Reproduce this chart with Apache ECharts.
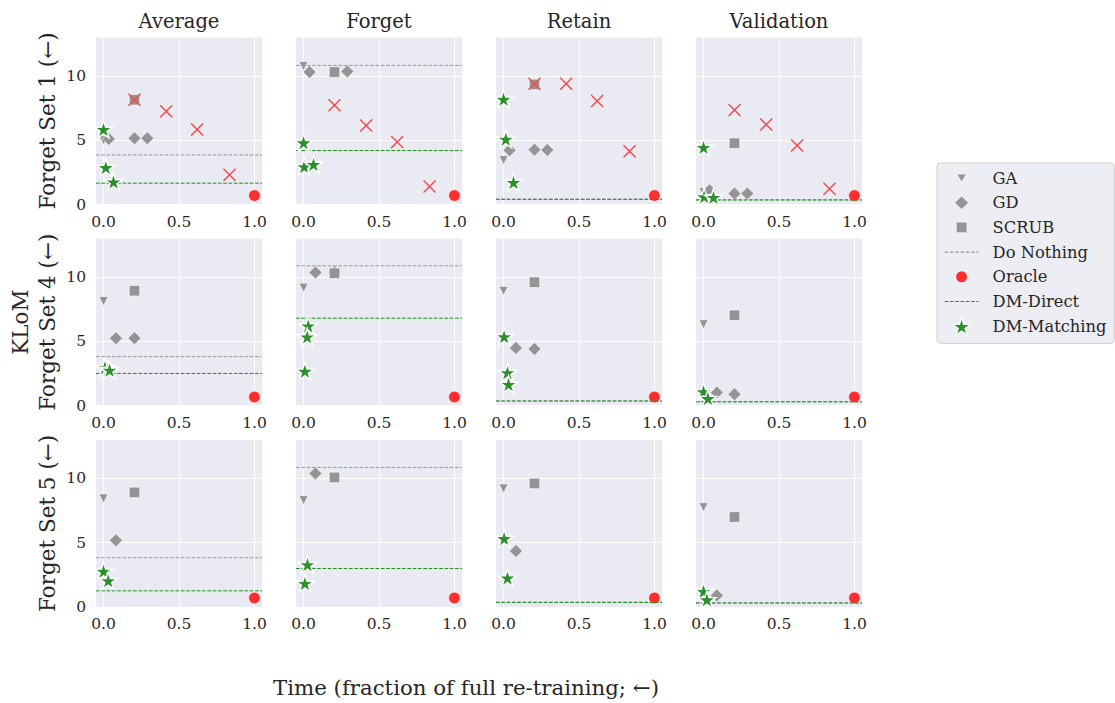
<!DOCTYPE html>
<html>
<head>
<meta charset="utf-8">
<script src="https://cdn.jsdelivr.net/npm/echarts@6/dist/echarts.min.js"></script>
<style>
  html, body { margin: 0; padding: 0; background: #ffffff; }
  #chart { width: 1115px; height: 703px; }
</style>
</head>
<body>
<div id="chart"></div>
<script>
// Panel headings and row headings
const colTitles = ['Average', 'Forget', 'Retain', 'Validation'];
const rowTitles = ['Forget Set 1 (\u2190)', 'KLoM\nForget Set 4 (\u2190)', 'Forget Set 5 (\u2190)'];
const xTitle = 'Time (fraction of full re-training; \u2190)';
const xTicks = [0, 0.5, 1.0];
const yTicks = [0, 5, 10];

// Points per panel, indexed [row][column]: [time fraction, KLoM]
const gaPts = [
  [[[0.0, 5.0]], [[0.0, 10.78]], [[0.0, 3.45]], [[0.0, 0.95]]],
  [[[0.0, 8.14]], [[0.0, 9.19]], [[0.0, 8.93]], [[0.0, 6.34]]],
  [[[0.0, 8.44]], [[0.0, 8.31]], [[0.0, 9.22]], [[0.0, 7.76]]]
];
const gdPts = [
  [[[0.035, 5.1], [0.205, 5.15], [0.29, 5.15]],
   [[0.04, 10.31], [0.29, 10.36]],
   [[0.04, 4.22], [0.205, 4.27], [0.29, 4.25]],
   [[0.04, 1.1], [0.205, 0.85], [0.29, 0.85]]],
  [[[0.082, 5.26], [0.205, 5.26]],
   [[0.079, 10.37], [0.205, 10.4]],
   [[0.082, 4.5], [0.205, 4.42]],
   [[0.088, 1.02], [0.205, 0.89]]],
  [[[0.082, 5.18]], [[0.079, 10.39]], [[0.082, 4.35]], [[0.088, 0.89]]]
];
const scrubPts = [
  [[[0.205, 8.15]], [[0.205, 10.31]], [[0.205, 9.35]], [[0.205, 4.77]]],
  [[[0.205, 8.95]], [[0.205, 10.31]], [[0.205, 9.61]], [[0.205, 7.04]]],
  [[[0.205, 8.91]], [[0.205, 10.08]], [[0.205, 9.61]], [[0.205, 7.0]]]
];
const oraclePts = [
  [[[1.0, 0.70]], [[1.0, 0.70]], [[1.0, 0.70]], [[1.0, 0.70]]],
  [[[1.0, 0.68]], [[1.0, 0.68]], [[1.0, 0.68]], [[1.0, 0.68]]],
  [[[1.0, 0.70]], [[1.0, 0.70]], [[1.0, 0.70]], [[1.0, 0.70]]]
];
// Oracle retrained on a fraction of the data (first forget set only)
const partialPts = [
  [[[0.205, 8.15], [0.415, 7.25], [0.62, 5.83], [0.835, 2.31]],
   [[0.205, 7.72], [0.415, 6.14], [0.62, 4.87], [0.835, 1.40]],
   [[0.205, 9.4], [0.415, 9.4], [0.62, 8.06], [0.835, 4.15]],
   [[0.205, 7.36], [0.415, 6.22], [0.62, 4.59], [0.835, 1.22]]],
  [[], [], [], []],
  [[], [], [], []]
];
const matchPts = [
  [[[0.0, 5.78], [0.015, 2.82], [0.066, 1.7]],
   [[0.0, 4.74], [0.004, 2.88], [0.066, 3.06]],
   [[0.0, 8.13], [0.015, 5.03], [0.066, 1.66]],
   [[0.0, 4.38], [0.004, 0.54], [0.066, 0.49]]],
  [[[0.01, 2.9], [0.03, 2.75], [0.04, 2.7]],
   [[0.031, 6.15], [0.024, 5.29], [0.009, 2.62]],
   [[0.004, 5.31], [0.026, 2.51], [0.033, 1.6]],
   [[0.0, 1.02], [0.029, 0.5]]],
  [[[0.0, 2.71], [0.031, 1.98]],
   [[0.026, 3.23], [0.009, 1.77]],
   [[0.004, 5.26], [0.026, 2.19]],
   [[0.0, 1.15], [0.022, 0.49]]]
];
// Horizontal reference levels per panel
const doNothing = [
  [3.86, 10.83, 0.42, 0.37],
  [3.82, 10.89, 0.38, 0.32],
  [3.83, 10.86, 0.37, 0.32]
];
const dmDirect = [
  [1.66, 4.2, 0.40, 0.35],
  [2.51, 6.81, 0.36, 0.30],
  [1.25, 2.99, 0.35, 0.30]
];

// Axis ranges
const X_MIN = -0.05, X_MAX = 1.05, Y_MIN = 0, Y_MAX = 13;

// Styling
const FONT = 'DejaVu Serif';
const TEXT = '#262626';
const GRAY = '#949495';
const RED = '#fb2f30';
const XRED = '#f94649';
const GREEN = '#2e8f2e';
const LINE_GREEN = '#1c941c';
const LINE_GRAY = '#999999';
const DASH = [3.7, 1.6];

const gridLeft = 96, gridTop = 37.5, gridW = 166, gridH = 167, colStep = 200, rowStep = 201.2;

function starPath(cx, cy, R) {
  const r = R * 0.381966;
  let d = '';
  for (let i = 0; i < 10; i++) {
    const rad = i % 2 === 0 ? R : r;
    const a = -Math.PI / 2 + i * Math.PI / 5;
    const px = cx + rad * Math.cos(a), py = cy + rad * Math.sin(a);
    d += (i === 0 ? 'M' : 'L') + px.toFixed(3) + ',' + py.toFixed(3);
  }
  return d + 'Z';
}
const STAR = 'path://' + starPath(0, 0, 1) + 'M0,1';
const TRI_DOWN = 'path://M-1,-1L1,-1L0,1Z';
// thin filled cross: two diagonal bars
function crossPath(h, t) {
  return 'path://M-' + h + ',-' + h + 'L' + (-h + t) + ',-' + h + 'L' + h + ',' + (h - t) + 'L' + h + ',' + h +
    'L' + (h - t) + ',' + h + 'L-' + h + ',' + (-h + t) + 'Z' +
    'M' + h + ',-' + h + 'L' + h + ',' + (-h + t) + 'L' + (-h + t) + ',' + h + 'L-' + h + ',' + h +
    'L-' + h + ',' + (h - t) + 'L' + (h - t) + ',-' + h + 'Z';
}
const XMARK = crossPath(1, 0.16);

// Legend icons drawn in a 44x20 box, shape centred at (18,10)
const BOX = 'M0,0M44,20';
function dashIcon() {
  let d = BOX;
  for (let x = 1; x < 35; x += DASH[0] + DASH[1]) {
    const w = Math.min(DASH[0], 35 - x);
    d += 'M' + x + ',9.5h' + w + 'v1.1h-' + w + 'Z';
  }
  return 'path://' + d;
}
const legendIcons = {
  'GA': 'path://' + BOX + 'M13.8,6.6L22.2,6.6L18,13.3Z',
  'GD': 'path://' + BOX + 'M18,3.7L24.5,10L18,16.3L11.5,10Z',
  'SCRUB': 'path://' + BOX + 'M13.1,5.1h9.8v9.8h-9.8Z',
  'Do Nothing': dashIcon(),
  'Oracle': 'path://' + BOX + 'M12.5,10A5.5,5.5,0,1,0,23.5,10A5.5,5.5,0,1,0,12.5,10Z',
  'DM-Direct': dashIcon(),
  'DM-Matching': 'path://' + BOX + starPath(18, 10.6, 9.4)
};
const legendColors = {
  'GA': GRAY, 'GD': GRAY, 'SCRUB': GRAY, 'Do Nothing': LINE_GRAY,
  'Oracle': RED, 'DM-Direct': LINE_GREEN, 'DM-Matching': GREEN
};

const grids = [], xAxes = [], yAxes = [], series = [], titles = [];

// dashed level spanning the whole panel
function hLine(name, value, color, z, i) {
  return {
    name: name, type: 'line', xAxisIndex: i, yAxisIndex: i, z: z,
    animation: false, silent: true, symbol: 'none', showSymbol: false,
    data: [[X_MIN, value], [X_MAX, value]],
    itemStyle: { color: color },
    lineStyle: { color: color, opacity: 1, type: DASH.slice(), width: 1 },
    emphasis: { disabled: true }
  };
}

for (let r = 0; r < 3; r++) {
  for (let c = 0; c < 4; c++) {
    const i = r * 4 + c;
    grids.push({
      left: gridLeft + c * colStep, top: gridTop + r * rowStep,
      width: gridW, height: gridH,
      show: true, backgroundColor: '#eaeaf2', borderWidth: 0
    });
    xAxes.push({
      type: 'value', gridIndex: i, min: X_MIN, max: X_MAX,
      axisLine: { show: false },
      axisTick: { show: false, customValues: xTicks },
      axisLabel: {
        show: true, customValues: xTicks, margin: 9,
        formatter: v => v.toFixed(1),
        fontFamily: FONT, fontSize: 15.5, color: TEXT
      },
      splitLine: { show: true, lineStyle: { color: '#ffffff', width: 1 } }
    });
    yAxes.push({
      type: 'value', gridIndex: i, min: Y_MIN, max: Y_MAX,
      axisLine: { show: false },
      axisTick: { show: false, customValues: yTicks },
      axisLabel: {
        show: c === 0, customValues: yTicks, margin: 10,
        fontFamily: FONT, fontSize: 15.5, color: TEXT
      },
      splitLine: { show: true, lineStyle: { color: '#ffffff', width: 1 } },
      name: c === 0 ? rowTitles[r] : '',
      nameLocation: 'middle',
      nameGap: 35,
      nameTextStyle: { fontFamily: FONT, fontSize: 21.5, color: TEXT, lineHeight: 27 }
    });

    const base = { xAxisIndex: i, yAxisIndex: i, animation: false, silent: true };
    series.push(Object.assign({}, base, {
      name: 'GA', type: 'scatter', z: 2, data: gaPts[r][c],
      symbol: TRI_DOWN, symbolSize: 9,
      itemStyle: { color: GRAY, opacity: 1, borderColor: '#ffffff', borderWidth: 0.6 }
    }));
    series.push(Object.assign({}, base, {
      name: 'GD', type: 'scatter', z: 3, data: gdPts[r][c],
      symbol: 'diamond', symbolSize: 13,
      itemStyle: { color: GRAY, opacity: 1, borderColor: '#ffffff', borderWidth: 0.6 }
    }));
    series.push(Object.assign({}, base, {
      name: 'SCRUB', type: 'scatter', z: 4, data: scrubPts[r][c],
      symbol: 'rect', symbolSize: 10.5,
      itemStyle: { color: GRAY, opacity: 1, borderColor: '#ffffff', borderWidth: 0.6 }
    }));
    series.push(hLine('Do Nothing', doNothing[r][c], LINE_GRAY, 5, i));
    series.push(Object.assign({}, base, {
      name: 'Oracle', type: 'scatter', z: 6, data: oraclePts[r][c],
      symbol: 'circle', symbolSize: 11.5,
      itemStyle: { color: RED, opacity: 1, borderColor: '#ffffff', borderWidth: 0.5 }
    }));
    series.push(Object.assign({}, base, {
      name: 'Oracle (fraction)', type: 'scatter', z: 7, data: partialPts[r][c],
      symbol: XMARK, symbolSize: 12.5,
      itemStyle: { color: XRED, opacity: 1, borderWidth: 0 }
    }));
    series.push(hLine('DM-Direct', dmDirect[r][c], LINE_GREEN, 8, i));
    series.push(Object.assign({}, base, {
      name: 'DM-Matching', type: 'scatter', z: 10, data: matchPts[r][c],
      symbol: STAR, symbolSize: 19, symbolKeepAspect: true,
      itemStyle: { color: GREEN, opacity: 1, borderColor: '#ffffff', borderWidth: 1.4 }
    }));
  }
}

colTitles.forEach((t, c) => {
  titles.push({
    text: t, left: gridLeft + c * colStep + gridW / 2, top: 11, textAlign: 'center', padding: 0,
    textStyle: { fontFamily: FONT, fontSize: 19.5, fontWeight: 'normal', color: TEXT }
  });
});
titles.push({
  text: xTitle, left: 466, top: 677, textAlign: 'center', padding: 0,
  textStyle: { fontFamily: FONT, fontSize: 21.3, fontWeight: 'normal', color: TEXT }
});

const legendNames = ['GA', 'GD', 'SCRUB', 'Do Nothing', 'Oracle', 'DM-Direct', 'DM-Matching'];

const chart = echarts.init(document.getElementById('chart'), null, { renderer: 'svg' });
chart.setOption({
  animation: false,
  backgroundColor: '#ffffff',
  title: titles,
  grid: grids,
  xAxis: xAxes,
  yAxis: yAxes,
  legend: {
    orient: 'vertical', left: 937, top: 163,
    padding: [5, 8, 6, 6], itemGap: 4.7,
    itemWidth: 44, itemHeight: 20,
    backgroundColor: 'rgba(237,237,244,1)',
    borderColor: '#cfcfcf', borderWidth: 1, borderRadius: 4,
    selectedMode: false,
    textStyle: { fontFamily: FONT, fontSize: 16.3, color: TEXT },
    data: legendNames.map(n => ({
      name: n, icon: legendIcons[n],
      itemStyle: n === 'DM-Matching'
        ? { color: legendColors[n], opacity: 1, borderColor: '#ffffff', borderWidth: 1.2 }
        : { color: legendColors[n], opacity: 1, borderWidth: 0 }
    }))
  },
  series: series
});
</script>
</body>
</html>
